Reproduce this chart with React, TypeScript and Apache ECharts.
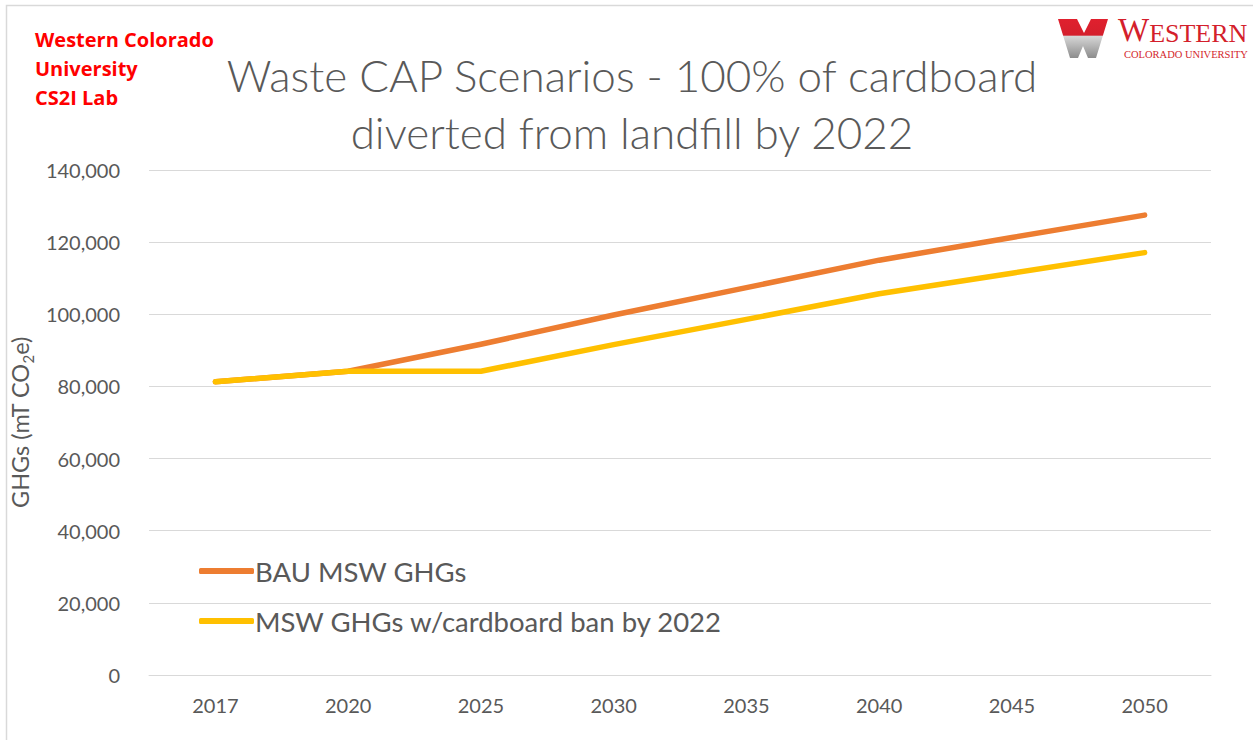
import React, { useEffect, useRef } from "react";
import * as echarts from "echarts";

const years = ["2017", "2020", "2025", "2030", "2035", "2040", "2045", "2050"];
const bauValues = [81300, 84200, 91700, 99800, 107400, 115000, 121300, 127500];
const banValues = [81300, 84200, 84200, 91600, 98600, 105700, 111400, 117100];
const seriesNames = ["BAU MSW GHGs", "MSW GHGs w/cardboard ban by 2022"];
const yTicks = { min: 0, max: 140000, interval: 20000 };

const FONT = "Lato, 'Open Sans', sans-serif";
const GREY = "#595959";
const SERIF = "'Liberation Serif', 'DejaVu Serif', serif";

export default function App() {
  const ref = useRef<HTMLDivElement>(null);
  useEffect(() => {
    if (!ref.current) return;
    const chart = echarts.init(ref.current, undefined, { renderer: "svg" });
    chart.setOption({
      animation: false,
      backgroundColor: "#ffffff",
      textStyle: { fontFamily: FONT },
      title: {
        text: "Waste CAP Scenarios - 100% of cardboard\ndiverted from landfill by 2022",
        left: 627,
        textAlign: "center",
        top: 41,
        textStyle: { fontFamily: FONT, fontWeight: 300, fontSize: 44, lineHeight: 57, color: GREY },
      },
      grid: { left: 145, right: 42, top: 170, bottom: 65, containLabel: false },
      legend: {
        orient: "vertical",
        left: 194,
        top: 552,
        itemWidth: 55,
        itemHeight: 6,
        itemGap: 22,
        icon: "roundRect",
        data: seriesNames,
        textStyle: { fontFamily: FONT, fontSize: 27.5, color: GREY, padding: [0, 0, 0, -4] },
      },
      xAxis: {
        type: "category",
        data: years,
        boundaryGap: true,
        axisLine: { show: true, lineStyle: { color: "#D9D9D9", width: 1 } },
        axisTick: { show: false },
        axisLabel: { color: GREY, fontSize: 20, margin: 20, fontFamily: FONT },
      },
      yAxis: {
        type: "value",
        min: yTicks.min,
        max: yTicks.max,
        interval: yTicks.interval,
        axisLine: { show: false },
        axisTick: { show: false },
        splitLine: { lineStyle: { color: "#D9D9D9", width: 1 } },
        axisLabel: {
          color: GREY,
          fontSize: 20,
          margin: 29,
          fontFamily: FONT,
          formatter: (v: number) => v.toLocaleString("en-US"),
        },
        name: "{a|GHGs (mT CO}{s|2}{a|e)}",
        nameLocation: "middle",
        nameRotate: 90,
        nameGap: 106,
        nameTextStyle: {
          rich: {
            a: { fontFamily: FONT, fontSize: 23.5, color: GREY, lineHeight: 30 },
            s: { fontFamily: FONT, fontSize: 15, color: GREY, lineHeight: 15, verticalAlign: "bottom" },
          },
        },
      },
      series: [
        {
          name: seriesNames[0],
          type: "line",
          data: bauValues,
          showSymbol: false,
          symbol: "none",
          lineStyle: { color: "#ED7D31", width: 5.5, cap: "round", join: "round" },
          itemStyle: { color: "#ED7D31" },
          z: 2,
        },
        {
          name: seriesNames[1],
          type: "line",
          data: banValues,
          showSymbol: false,
          symbol: "none",
          lineStyle: { color: "#FFC000", width: 5.5, cap: "round", join: "round" },
          itemStyle: { color: "#FFC000" },
          z: 3,
        },
      ],
      graphic: [
        {
          type: "rect",
          shape: { x: 6.5, y: 5.5, width: 1300, height: 800 },
          style: { fill: "none", stroke: "#D9D9D9", lineWidth: 1.5 },
          silent: true,
        },
        {
          type: "text",
          x: 35,
          y: 25,
          style: {
            text: "Western Colorado\nUniversity\nCS2I Lab",
            fill: "#FF0000",
            font: `bold 20px 'Open Sans', Lato, sans-serif`,
            lineHeight: 29,
          },
        },
        {
          type: "polygon",
          shape: {
            points: [
              [1058, 19], [1077, 19], [1084, 33], [1091, 19], [1108, 19],
              [1096, 58], [1088, 58], [1083, 46], [1078, 58], [1070, 58],
            ],
          },
          style: {
            fill: new echarts.graphic.LinearGradient(0, 0, 0, 1, [
              { offset: 0, color: "#E0202E" },
              { offset: 0.42, color: "#D41F2C" },
              { offset: 0.43, color: "#D8D8D8" },
              { offset: 1, color: "#8C8C8C" },
            ]),
          },
        },
        {
          type: "text",
          x: 1118,
          y: 14,
          style: {
            text: "{b|W}{c|ESTERN}",
            rich: {
              b: { fontFamily: SERIF, fontSize: 33, fill: "#D41F2C", lineHeight: 32, verticalAlign: "bottom" },
              c: { fontFamily: SERIF, fontSize: 26, fill: "#D41F2C", lineHeight: 26, verticalAlign: "bottom" },
            },
          },
        },
        {
          type: "text",
          x: 1124,
          y: 49,
          style: {
            text: "COLORADO UNIVERSITY",
            fill: "#D41F2C",
            font: `10.5px ${SERIF}`,
          },
        },
      ],
    });
    return () => chart.dispose();
  }, []);
  return <div ref={ref} style={{ position: "absolute", left: 0, top: 0, width: 1253, height: 740 }} />;
}
